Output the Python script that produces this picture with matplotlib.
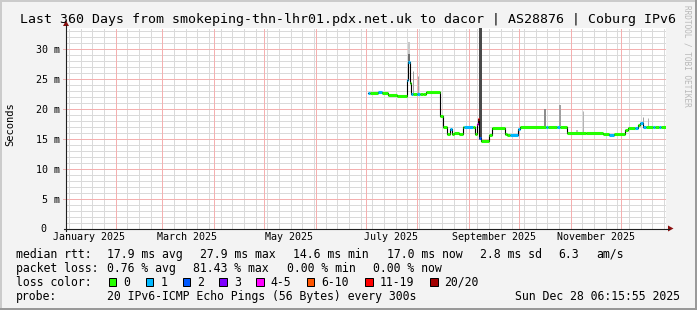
import matplotlib
matplotlib.use('Agg')
import matplotlib.pyplot as plt
from matplotlib.patches import Rectangle, Polygon
import pandas as pd

W, H = 697, 310
MONO = 'DejaVu Sans Mono'

# window: 360 days ending at the graph timestamp
end_time = pd.Timestamp('2025-12-28 06:15:55')
span_days = 360

# median rtt as steps: start day (days after window start), median in ms, loss bucket
seg_day = [181.4, 182.4, 187.4, 189.4, 193.4, 198.4, 204.4, 205.2, 206.2, 207.0,
           208.2, 210.8, 212.2, 214.2, 215.8, 224.6, 226.0, 228.8, 230.4, 231.6,
           233.0, 236.0, 238.0, 238.6, 244.4, 245.4, 246.6, 247.2, 247.8, 249.0,
           254.0, 255.8, 263.6, 264.8, 266.4, 271.4, 272.6, 288.0, 289.0, 294.4,
           296.4, 300.8, 312.0, 322.4, 326.0, 329.0, 335.4, 337.4, 341.4, 343.4,
           344.6, 346.4, 348.0, 352.0, 353.2, 355.6, 356.8]
seg_last_day = 360.0
seg_ms = [22.75, 22.75, 22.9, 22.65, 22.4, 22.2, 24.9, 27.9, 24.3, 22.5,
          22.5, 22.45, 22.5, 22.55, 22.9, 18.85, 16.95, 15.9, 16.6, 15.8,
          15.95, 15.8, 17.0, 17.0, 17.0, 15.9, 17.5, 18.3, 15.1, 14.7,
          15.7, 16.8, 15.9, 15.65, 15.65, 16.6, 17.05, 17.05, 17.0, 16.95,
          17.0, 16.05, 15.95, 15.8, 15.7, 15.75, 16.45, 16.8, 16.8, 17.3,
          17.7, 17.05, 17.05, 17.05, 17.05, 17.05, 17.05]
seg_loss = [1, 0, 1, 0, 0, 0, 1, 1, 0, 1,
            0, 1, 0, 0, 0, 0, 0, 0, 1, 0,
            0, 0, 0, 1, 0, 0, 4, 6, 2, 0,
            0, 0, 0, 0, 1, 1, 0, 1, 0, 1,
            0, 0, 0, 0, 1, 0, 0, 0, 1, 0,
            1, 1, 0, 1, 0, 1, 0]

# smoke spikes (ping spread): day, low ms, high ms
smoke_day = [205.6, 205.6, 208.4, 211.4, 248.2, 287.4, 296.4, 306.4, 310.4, 346.4, 349.4]
smoke_lo = [27.9, 29.3, 22.5, 22.5, 15.0, 17.1, 17.1, 16.1, 16.1, 17.7, 17.1]
smoke_hi = [29.3, 31.3, 26.3, 25.5, 34.5, 20.0, 20.7, 16.5, 19.6, 18.6, 18.5]
smoke_shade = ['#707070', '#c8c8c8', '#a0a0a0', '#a8a8a8', '#4a4a4a', '#8c8c8c',
               '#a0a0a0', '#c0c0c0', '#b4b4b4', '#a0a0a0', '#b0b0b0']
smoke_px = [2, 2, 1, 1, 3, 2, 2, 2, 1, 1, 1]

loss_labels = ['0', '1', '2', '3', '4-5', '6-10', '11-19', '20/20']
loss_colors = ['#26ff00', '#00b8ff', '#0059ff', '#7e00ff', '#ff00ff', '#ff5500', '#ff0000', '#a10000']

title = 'Last 360 Days from smokeping-thn-lhr01.pdx.net.uk to dacor | AS28876 | Coburg IPv6'
rtt_stats = ['17.9 ms avg', '27.9 ms max', '14.6 ms min', '17.0 ms now', '2.8 ms sd', '6.3', 'am/s']
loss_stats = ['0.76 % avg', '81.43 % max', '0.00 % min', '0.00 % now']
probe_text = '20 IPv6-ICMP Echo Pings (56 Bytes) every 300s'
stamp_text = 'Sun Dec 28 06:15:55 2025'
y_ticks = [5, 10, 15, 20, 25, 30]
y_ticklabels = ['5 m', '10 m', '15 m', '20 m', '25 m', '30 m']
label_months = ['2025-01-16', '2025-03-16', '2025-05-16', '2025-07-16', '2025-09-16', '2025-11-16']

# ---- geometry (pixels)
X0, X1 = 66, 666
Y0, YT = 228.5, 28
PX_MS = 5.97
start_time = end_time - pd.Timedelta(days=span_days)
day = pd.Timedelta(days=1)

def to_day(ts):
    return (pd.Timestamp(ts) - start_time) / day

fig = plt.figure(figsize=(W / 100, H / 100), dpi=100, facecolor='#f3f3f3')
ax = fig.add_axes([X0 / W, (H - Y0) / H, (X1 - X0) / W, (Y0 - YT) / H])
ax.set_facecolor('white')
ax.set_xlim(0, span_days)
ax.set_ylim(0, (Y0 - YT) / PX_MS)
for s in ax.spines.values():
    s.set_visible(False)

dot = (0, (1, 1))
lw1 = 0.72
grid_kw = dict(lw=lw1, ls=dot, antialiased=False)
# minor grid
wk = pd.date_range('2025-01-04', end_time, freq='7D')
for t in wk:
    ax.axvline(to_day(t), color='#dadada', zorder=1, **grid_kw)
for v in range(1, 34):
    ax.axhline(v, color='#dadada', zorder=1, **grid_kw)
# major grid
ms = pd.date_range('2025-02-01', end_time, freq='MS')
for t in ms:
    ax.axvline(to_day(t), color='#f4b0b0', zorder=2, **grid_kw)
ax.hlines(y_ticks, -3 * span_days / 600, span_days, color='#f4b0b0',
          zorder=2, clip_on=False, **grid_kw)

# smoke
for d, lo, hi, c, w in zip(smoke_day, smoke_lo, smoke_hi, smoke_shade, smoke_px):
    ax.vlines(d, lo, hi, color=c, lw=w * 0.72, zorder=3)

# median: black step, then loss-coloured segments
ends = seg_day[1:] + [seg_last_day]
xs, ys = [], []
for a, b, v in zip(seg_day, ends, seg_ms):
    xs += [a, b]
    ys += [v, v]
ax.plot(xs, ys, color='black', lw=0.8, zorder=4)
ax.hlines(seg_ms, seg_day, ends, colors=[loss_colors[i] for i in seg_loss],
          lw=2.2, zorder=5, capstyle='butt')

ax.set_yticks(y_ticks, labels=y_ticklabels)
ax.set_xticks([to_day(m) for m in label_months],
              labels=[pd.Timestamp(m).strftime('%B %Y') for m in label_months])
ax.tick_params(length=0, labelsize=7.2)
ax.tick_params(axis='y', pad=4.3)
ax.tick_params(axis='x', pad=2.4)
for lab in ax.get_xticklabels() + ax.get_yticklabels():
    lab.set_fontfamily(MONO)

# ---- overlay in pixel coordinates
ov = fig.add_axes([0, 0, 1, 1], zorder=10)
ov.set_xlim(0, W)
ov.set_ylim(H, 0)
ov.axis('off')
ov.patch.set_alpha(0)

# frame
ov.add_patch(Rectangle((0, 0), W, 2, color='#cbcbcb', lw=0))
ov.add_patch(Rectangle((0, 0), 2, H, color='#cbcbcb', lw=0))
ov.add_patch(Rectangle((0, H - 2), W, 2, color='#999999', lw=0))
ov.add_patch(Rectangle((W - 2, 0), 2, H, color='#999999', lw=0))

# axes with arrows
ov.plot([X0, X0], [Y0 + 2.5, 25], color='#202020', lw=0.8)
ov.plot([X0 - 2, 669], [Y0, Y0], color='#202020', lw=0.8)
ov.add_patch(Polygon([[X0 - 3, 26], [X0 + 3, 26], [X0, 20.5]], color='#8b1010', lw=0))
ov.add_patch(Polygon([[668, Y0 - 3], [668, Y0 + 3], [673.5, Y0]], color='#8b1010', lw=0))
ov.text(46.7, Y0, '0', family=MONO, fontsize=7.2, ha='right', va='center')

ov.text(348, 19, title, family=MONO, fontsize=9.5, ha='center', va='center')
ov.text(10, 124.5, 'Seconds', family=MONO, fontsize=7.5, rotation=90, ha='center', va='center')
ov.text(687.5, 5, 'RRDTOOL / TOBI OETIKER', family=MONO, fontsize=5.6, color='#b8b8b8',
        rotation=270, ha='center', va='top')

LF = 8.3
row_y = [254.3, 268.1, 282.1, 296.1]
ov.text(16, row_y[0], 'median rtt:', family=MONO, fontsize=LF, va='center')
for x, s in zip([107.3, 200, 293.3, 386.7, 479.5, 558, 596], rtt_stats):
    ov.text(x, row_y[0], s, family=MONO, fontsize=LF, va='center')
ov.text(16, row_y[1], 'packet loss:', family=MONO, fontsize=LF, va='center')
for x, s in zip([107.3, 192.7, 286.7, 372.7], loss_stats):
    ov.text(x, row_y[1], s, family=MONO, fontsize=LF, va='center')
ov.text(16, row_y[2], 'loss color:', family=MONO, fontsize=LF, va='center')
box_x = [108.7, 145.7, 182.7, 219.3, 256, 306.7, 365, 430]
for bx, lab, c in zip(box_x, loss_labels, loss_colors):
    ov.add_patch(Rectangle((bx, 278), 7.7, 8.3, facecolor=c, edgecolor='black', lw=0.72))
    ov.text(bx + 14.6, row_y[2], lab, family=MONO, fontsize=LF, va='center')
ov.text(16, row_y[3], 'probe:', family=MONO, fontsize=LF, va='center')
ov.text(107.3, row_y[3], probe_text, family=MONO, fontsize=LF, va='center')
ov.text(680, row_y[3], stamp_text, family=MONO, fontsize=LF, va='center', ha='right')

fig.savefig('out.png', dpi=100, facecolor=fig.get_facecolor())
